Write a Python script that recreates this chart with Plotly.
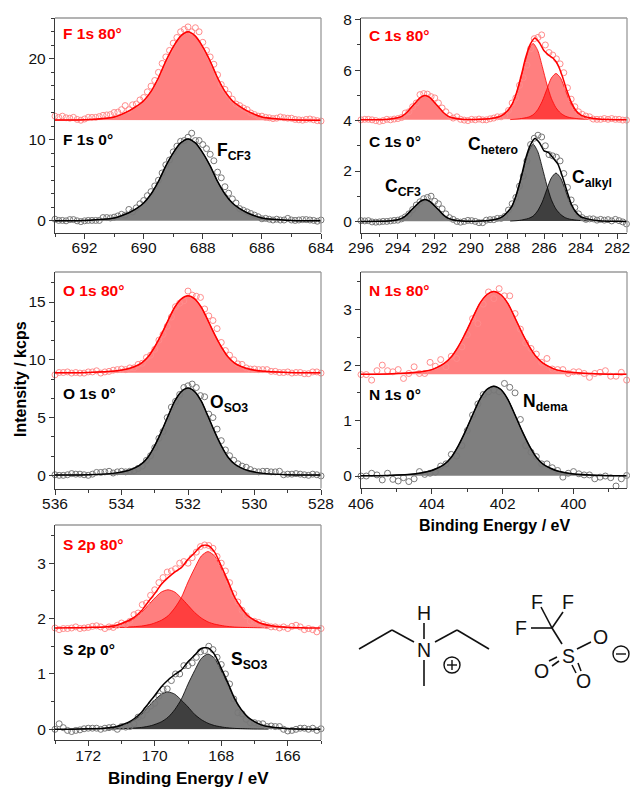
import plotly.graph_objects as go

W, H = 630, 787

# ---------- measured points (kcps) ----------
f80 = [12.9,12.75,12.9,12.7,12.65,12.75,12.5,12.4,12.55,12.75,
       12.75,12.75,12.85,13.0,13.05,13.1,13.35,13.4,13.7,14.2,
       13.7,14.3,14.4,14.9,15.2,15.9,16.6,17.3,18.3,19.4,
       20.2,21.0,21.9,22.6,23.3,23.6,23.9,23.3,23.8,23.3,
       22.0,21.0,20.2,19.3,18.0,16.8,16.2,15.6,15.0,14.4,
       14.2,13.9,13.7,13.3,13.1,12.9,12.9,12.75,12.7,12.6,
       12.65,12.8,12.7,12.65,12.65,12.5,12.45,12.4,12.5,12.55,
       12.45,12.35,12.3]
f0 = [.2,.05,.05,.0,.15,.15,.0,-.1,.0,.05,
      .05,.05,.05,.4,.4,.35,.45,.6,.8,.7,
      1.4,1.1,1.6,2.1,2.5,3.1,3.6,4.3,5.0,5.9,
      6.9,7.5,8.5,9.2,9.8,9.9,10.3,10.8,9.9,9.9,
      9.4,8.9,8.2,7.4,6.0,5.3,4.2,3.4,2.7,2.2,
      1.5,1.3,1.1,.9,.7,.5,.25,.3,.2,.1,
      .2,.1,.1,.3,.1,.05,.1,.15,.15,.1,
      .05,-.05,.1]
o80 = [8.7,8.9,8.9,8.95,8.85,8.9,8.85,8.85,8.95,8.95,
       9.05,8.85,8.95,9.0,9.1,9.15,9.2,9.15,9.3,9.3,
       9.6,9.7,10.2,10.4,10.9,11.7,12.2,12.9,13.7,14.6,
       14.9,15.1,15.95,15.6,15.5,15.4,14.4,13.8,13.4,12.7,
       11.5,10.8,10.4,10.0,9.65,9.6,9.3,9.2,9.2,9.15,
       9.15,9.15,9.0,9.0,8.9,8.9,8.95,8.85,8.9,8.9,
       8.8,8.8,8.95,8.95,8.85]
o0 = [.05,.0,.0,.05,.15,.1,.1,.05,.0,.1,
      .25,.25,.3,.35,.2,.3,.35,.3,.35,.4,
      .6,.8,1.3,1.7,2.4,3.2,3.8,5.0,5.9,6.4,
      7.0,7.6,7.75,7.9,7.6,6.9,6.8,5.3,5.0,4.0,
      3.0,2.2,1.7,1.3,1.0,.8,.7,.5,.35,.3,
      .35,.35,.3,.3,.35,.05,.1,.1,.15,.1,
      .05,.0,.1,.05,-.05]
n80 = [1.83,1.83,1.73,1.9,2.0,1.9,1.88,1.92,1.76,1.85,
       1.97,1.85,1.85,2.05,1.98,2.1,1.97,2.16,2.12,2.33,
       2.55,2.84,2.75,3.1,3.32,3.2,3.38,3.25,3.25,2.93,
       2.65,2.4,2.3,2.2,2.05,2.12,1.93,1.92,1.92,1.85,
       1.88,1.88,1.85,1.78,1.85,1.87,1.9,1.8,1.8,1.87,
       1.73]
n0 = [.0,.0,.05,.02,-.07,.05,-.06,-.09,-.03,-.1,
      -.05,.08,.03,.05,.07,.18,.22,.39,.36,.55,
      .82,1.1,1.3,1.47,1.52,1.55,1.52,1.67,1.6,1.5,
      1.02,.55,.43,.35,.22,.22,.15,.1,-.02,.05,
      .08,.04,.02,.02,-.05,-.02,.0,-.03,-.18,-.05,
      .01]
c80 = [4.03,4.05,4.05,4.03,4.0,3.97,4.0,4.05,4.03,4.06,
       4.08,4.12,4.3,4.35,4.55,4.7,5.03,5.07,5.05,4.95,
       4.9,4.7,4.5,4.35,4.2,4.1,4.15,4.05,4.02,4.0,
       4.05,4.03,4.06,4.03,4.03,4.07,4.1,4.15,4.15,4.2,
       4.4,4.7,4.9,5.4,5.7,6.2,6.85,7.25,7.3,7.4,
       7.0,6.7,6.6,6.45,6.25,5.9,5.3,4.85,4.55,4.35,
       4.25,4.18,4.15,4.06,4.05,4.05,4.08,4.05,4.08,4.05,
       4.05,4.02,4.02]
c0 = [.03,.02,.03,-.02,-.03,-.02,.0,.0,.02,.04,
      .05,.1,.18,.3,.47,.65,.78,.9,.95,1.0,
      .8,.7,.5,.3,.15,.08,.0,-.03,.0,.04,
      .03,.0,-.05,-.05,.05,.07,.07,.12,.12,.2,
      .45,.7,.95,1.4,1.8,2.4,3.05,3.3,3.42,3.35,
      3.0,2.65,2.6,2.55,2.4,1.9,1.35,.85,.55,.3,
      .15,.08,.1,.1,.05,.08,.05,.07,.02,.08,
      .03,-.02,-.1]
s80 = [1.83,1.8,1.82,1.82,1.83,1.85,1.82,1.83,1.84,1.86,
       1.87,1.85,1.82,1.85,1.84,1.88,1.92,1.9,1.95,2.07,
       2.1,2.25,2.28,2.42,2.52,2.65,2.74,2.84,2.86,2.9,
       3.0,3.03,3.0,3.1,3.2,3.3,3.33,3.32,3.27,3.12,
       3.0,2.86,2.65,2.45,2.3,2.15,2.05,1.95,1.95,1.93,
       1.9,1.87,1.85,1.85,1.83,1.85,1.82,1.86,1.88,1.85,
       1.8,1.82,1.8,1.76,1.82]
s0 = [.0,.1,.03,-.02,-.04,-.02,-.01,.01,.02,.02,
      .02,.0,.02,.03,.04,.0,.05,.04,.05,.1,
      .22,.25,.35,.42,.47,.6,.72,.73,.88,1.0,
      1.0,1.15,1.15,1.2,1.3,1.4,1.42,1.5,1.44,1.3,
      1.17,1.0,.82,.55,.3,.28,.18,.12,.12,.1,
      .1,.05,.06,.05,.05,.0,-.03,-.02,.0,.02,
      .02,.0,.02,-.02,.01]

# energy scan start, stop of the measured points (eV)
scan_f = (693, 684)
scan_o = (536, 528)
scan_n = (406, 398.5)
scan_c = (296, 281.5)
scan_s = (173, 165)

# ---------- fit envelopes ----------
fx_f = [693,692,691,690.5,690.25,690,689.75,689.5,689.25,689,688.75,688.5,688.25,688,687.75,687.5,687.25,687,686.75,686.5,686,685,684]
fit_f80 = [12.42,12.45,12.8,13.55,14.1,14.8,15.95,17.63,19.7,21.45,22.76,23.3,22.76,21.45,19.7,17.63,15.95,14.8,14.1,13.55,12.8,12.45,12.4]
fit_f0 = [0,.05,.35,1.0,1.5,2.2,3.3,4.85,6.77,8.38,9.6,10.1,9.6,8.38,6.77,4.85,3.3,2.2,1.5,1.0,.35,.05,0]

fx_o = [536,535,534.2,533.8,533.6,533.4,533.2,533,532.8,532.6,532.4,532.2,532,531.8,531.6,531.4,531.2,531,530.8,530.6,530.4,530.2,529.8,529,528]
fit_o80 = [8.87,8.9,9.02,9.22,9.42,9.72,10.26,11.13,12.2,13.41,14.55,15.28,15.55,15.28,14.55,13.41,12.2,11.13,10.26,9.72,9.42,9.22,9.02,8.9,8.87]
fit_o0 = [.02,.05,.19,.42,.64,.98,1.59,2.57,3.78,5.13,6.42,7.25,7.55,7.25,6.42,5.13,3.78,2.57,1.59,.98,.64,.42,.19,.05,.02]

fx_n = [406,405.25,404.45,404.05,403.85,403.65,403.45,403.25,403.05,402.85,402.65,402.45,402.25,402.05,401.85,401.65,401.45,401.25,401.05,400.85,400.65,400.45,400.05,399.25,398.49]
fit_n80 = [1.835,1.84,1.87,1.91,1.96,2.03,2.15,2.34,2.58,2.85,3.11,3.27,3.33,3.27,3.11,2.85,2.58,2.34,2.15,2.03,1.96,1.91,1.87,1.84,1.835]
fit_n0 = [.005,.01,.04,.09,.14,.21,.34,.55,.81,1.10,1.38,1.56,1.62,1.56,1.38,1.10,.81,.55,.34,.21,.14,.09,.04,.01,.005]

fx_c = [296,295,294.5,294,293.75,293.5,293.25,293,292.75,292.5,292.25,292,291.75,291.5,291.25,291,290.5,290,289.5,289,288.75,288.5,288.25,288,287.75,287.5,287.25,287,286.75,286.5,286.25,286,285.75,285.5,285.25,285,284.75,284.5,284.25,284,283.5,283,282,281.47]
fit_c80 = [4.03,4.035,4.05,4.11,4.18,4.32,4.53,4.73,4.92,5.0,4.92,4.73,4.53,4.32,4.18,4.11,4.05,4.04,4.05,4.07,4.1,4.14,4.23,4.39,4.64,5.12,5.78,6.51,7.03,7.28,7.09,6.77,6.6,6.47,6.22,5.75,5.18,4.7,4.39,4.23,4.11,4.06,4.035,4.03]
fit_c0 = [0,.004,.02,.07,.13,.26,.45,.63,.8,.87,.8,.63,.45,.26,.13,.07,.02,.01,.02,.04,.07,.11,.2,.37,.61,1.1,1.76,2.51,3.03,3.29,3.12,2.8,2.73,2.51,2.28,1.78,1.2,.67,.36,.19,.08,.03,.005,0]

fx_s = [173,172.5,172,171.5,171.2,171,170.8,170.6,170.4,170.2,170,169.8,169.6,169.4,169.2,169,168.8,168.6,168.4,168.2,168,167.8,167.6,167.4,167.2,167,166.8,166.5,166,165.5,165]
fit_s80 = [1.83,1.833,1.84,1.85,1.87,1.91,1.96,2.03,2.14,2.3,2.45,2.62,2.74,2.84,2.92,3.07,3.19,3.31,3.32,3.2,2.95,2.68,2.39,2.2,2.05,1.97,1.91,1.87,1.84,1.832,1.83]
fit_s0 = [0,.003,.008,.02,.04,.078,.125,.2,.305,.46,.61,.77,.89,.99,1.07,1.22,1.34,1.46,1.47,1.35,1.1,.84,.56,.36,.22,.14,.08,.04,.012,.003,0]

# ---------- fitted components ----------
cx_cf3 = [295,294.5,294,293.75,293.5,293.25,293,292.75,292.5,292.25,292,291.75,291.5,291.25,291,290.5,290]
cf3_80 = [4.035,4.05,4.11,4.18,4.32,4.53,4.73,4.92,5.0,4.92,4.73,4.53,4.32,4.18,4.11,4.05,4.035]
cf3_0 = [.004,.02,.07,.13,.26,.45,.63,.8,.87,.8,.63,.45,.26,.13,.07,.02,.004]
cx_het = [289.6,289.1,288.6,288.35,288.1,287.85,287.6,287.35,287.1,286.85,286.6,286.35,286.1,285.85,285.6,285.35,285.1,284.85,284.6,284.1,283.6]
het_80 = [4.05,4.07,4.12,4.18,4.3,4.51,4.88,5.45,6.15,6.79,7.06,6.79,6.15,5.45,4.88,4.51,4.3,4.18,4.12,4.07,4.05]
het_0 = [.015,.04,.09,.15,.28,.49,.86,1.44,2.14,2.78,3.06,2.78,2.14,1.44,.86,.49,.28,.15,.09,.04,.015]
cx_alk = [287.85,287.35,286.85,286.6,286.35,286.1,285.85,285.6,285.35,285.1,284.85,284.6,284.35,284.1,283.85,283.35,282.85]
alk_80 = [4.04,4.07,4.14,4.23,4.43,4.77,5.24,5.69,5.87,5.69,5.24,4.77,4.43,4.23,4.14,4.07,4.04]
alk_0 = [.013,.04,.12,.21,.42,.77,1.27,1.73,1.92,1.73,1.27,.77,.42,.21,.12,.04,.013]
sx_a = [172.6,172.1,171.6,171.3,171,170.8,170.6,170.4,170.2,170,169.8,169.6,169.4,169.2,169,168.8,168.6,168.4,168.2,167.9,167.6,167.1,166.6]
sa_80 = [1.832,1.837,1.847,1.865,1.9,1.94,2.01,2.11,2.24,2.37,2.48,2.52,2.48,2.37,2.24,2.11,2.01,1.94,1.9,1.865,1.847,1.837,1.832]
sa_0 = [.002,.007,.017,.034,.068,.11,.175,.27,.405,.527,.635,.675,.635,.527,.405,.27,.175,.11,.068,.034,.017,.007,.002]
sx_b = [171.4,170.9,170.4,170.1,169.8,169.6,169.4,169.2,169,168.8,168.6,168.4,168.2,168,167.8,167.6,167.4,167.2,167,166.7,166.4,165.9,165.4]
sb_80 = [1.834,1.844,1.865,1.9,1.97,2.05,2.19,2.38,2.66,2.91,3.13,3.21,3.13,2.91,2.66,2.38,2.19,2.05,1.97,1.9,1.865,1.844,1.834]
sb_0 = [.004,.014,.034,.068,.136,.218,.354,.544,.816,1.06,1.28,1.36,1.28,1.06,.816,.544,.354,.218,.136,.068,.034,.014,.004]

# ---------- panels: pixel box, axis ranges, ticks ----------
panels = [
    dict(box=(55,321,18,232.5), xr=(693,684), yr=(-1.44,25.0), xt=[692,690,688,686,684], yt=[0,10,20], ym=10/6, scan=scan_f,
         y80=f80, y0=f0, fx=fx_f, fit80=fit_f80, fit0=fit_f0,
         comp=[(fx_f,fit_f80,fit_f0)]),
    dict(box=(361,627,18,232.5), xr=(296,281.47), yr=(-0.44,8.07), xt=[296,294,292,290,288,286,284,282], yt=[0,2,4,6,8], ym=1, scan=scan_c,
         y80=c80, y0=c0, fx=fx_c, fit80=fit_c80, fit0=fit_c0,
         comp=[(cx_cf3,cf3_80,cf3_0),(cx_het,het_80,het_0),(cx_alk,alk_80,alk_0)]),
    dict(box=(55,321,272,488.5), xr=(536,528), yr=(-1.14,17.6), xt=[536,534,532,530,528], yt=[0,5,10,15], ym=5/3, scan=scan_o,
         y80=o80, y0=o0, fx=fx_o, fit80=fit_o80, fit0=fit_o0,
         comp=[(fx_o,fit_o80,fit_o0)]),
    dict(box=(361,627,272,488), xr=(406,398.49), yr=(-0.216,3.68), xt=[406,404,402,400], yt=[0,1,2,3], ym=0.5, scan=scan_n,
         y80=n80, y0=n0, fx=fx_n, fit80=fit_n80, fit0=fit_n0,
         comp=[(fx_n,fit_n80,fit_n0)]),
    dict(box=(55,321,525,740), xr=(173,165), yr=(-0.193,3.69), xt=[172,170,168,166], yt=[0,1,2,3], ym=0.5, scan=scan_s,
         y80=s80, y0=s0, fx=fx_s, fit80=fit_s80, fit0=fit_s0,
         comp=[(sx_a,sa_80,sa_0),(sx_b,sb_80,sb_0)]),
]

# text labels: text, left px, centre y px, colour, font size
RED, BLACK = "#ff0000", "#000000"
labels = [
    ("F 1s 80°",61,34,RED,15.5),("F 1s 0°",61,139,BLACK,15.5),("F<sub>CF3</sub>",215,151,BLACK,17.5),
    ("C 1s 80°",367,35,RED,15.5),("C 1s 0°",367,142,BLACK,15.5),("C<sub>hetero</sub>",466,145,BLACK,17.5),
    ("C<sub>CF3</sub>",383,188,BLACK,17.5),("C<sub>alkyl</sub>",570,178,BLACK,17.5),
    ("O 1s 80°",61,290,RED,15.5),("O 1s 0°",61,393,BLACK,15.5),("O<sub>SO3</sub>",208,403,BLACK,17.5),
    ("N 1s 80°",367,290,RED,15.5),("N 1s 0°",367,395,BLACK,15.5),("N<sub>dema</sub>",521,402,BLACK,17.5),
    ("S 2p 80°",61,544,RED,15.5),("S 2p 0°",61,649,BLACK,15.5),("S<sub>SO3</sub>",229,660,BLACK,17.5),
]
titles = [("Intensity / kcps",20,379,-90,16),("Binding Energy / eV",494,525,0,16),("Binding Energy / eV",188,778,0,17)]

# molecule drawing, in pixels of the page
bonds = [
    (359,649,392,630),(392,630,414,642),(435,642,457,630),(457,630,489,649),
    (424,623,424,639),(424,660,424,686),
    (541,607,552,628),(563,612,552,628),(531,628,552,628),(552,628,562,644),
    (577,649,591,642),(557,657,549,661),(559,661,552,666),(572,665,576,673),(578,663,581,671),
]
atoms = [("H",424,613),("N",424,650),("F",537,602),("F",568,602),("F",521,628),("S",568,656),("O",600,637),("O",541,671),("O",583,681)]
charge_plus = (452,665)
charge_minus = (621,654)

LINE_C = "#3a3a3a"
FRAME_C = "#9a9a9a"
TICK_SIZE = 15.5

fig = go.Figure()
annotations, shapes = [], []
layout = {}


def px_x(v):
    return v / W


def px_y(v):
    return 1 - v / H


for i, p in enumerate(panels, start=1):
    xa, ya = f"x{i}", f"y{i}"
    L, R, T, B = p["box"]
    layout[f"xaxis{i}"] = dict(
        domain=[px_x(L), px_x(R)], range=list(p["xr"]), anchor=ya, tickmode="array", tickvals=p["xt"],
        ticks="outside", ticklen=5, tickwidth=1.2, tickcolor=LINE_C, showline=True, linecolor=LINE_C, linewidth=1.3,
        showgrid=False, zeroline=False, tickfont=dict(size=TICK_SIZE, color="#111"), automargin=False,
        ticklabeloverflow="allow", ticklabelstandoff=-4,
        minor=dict(ticks="outside", ticklen=3, tickwidth=1, tickcolor=LINE_C, dtick=1, showgrid=False, tick0=p["xt"][0]),
    )
    layout[f"yaxis{i}"] = dict(
        domain=[px_y(B), px_y(T)], range=list(p["yr"]), anchor=xa, tickmode="array", tickvals=p["yt"],
        ticks="outside", ticklen=5, tickwidth=1.2, tickcolor=LINE_C, showline=True, linecolor=LINE_C, linewidth=1.3,
        showgrid=False, zeroline=False, tickfont=dict(size=TICK_SIZE, color="#111"), automargin=False,
        minor=dict(ticks="outside", ticklen=3, tickwidth=1, tickcolor=LINE_C, dtick=p["ym"], tick0=0, showgrid=False),
    )
    # grey top and right frame
    shapes.append(dict(type="line", xref="paper", yref="paper", x0=px_x(L), x1=px_x(R), y0=px_y(T), y1=px_y(T), line=dict(color=FRAME_C, width=1.3)))
    shapes.append(dict(type="line", xref="paper", yref="paper", x0=px_x(R), x1=px_x(R), y0=px_y(T), y1=px_y(B), line=dict(color=FRAME_C, width=1.3)))

    for key, col, fill, mk, fit, ycomp in (
        ("y80", "#ff0000", "rgba(255,0,0,0.5)", "rgb(255,140,140)", p["fit80"], 1),
        ("y0", "#000000", "rgba(0,0,0,0.5)", "rgb(120,120,120)", p["fit0"], 2),
    ):
        for comp in p["comp"]:
            fig.add_trace(go.Scatter(x=comp[0], y=comp[ycomp], xaxis=xa, yaxis=ya, mode="lines", fill="toself",
                                     fillcolor=fill, line=dict(color=col, width=0.8, shape="spline", smoothing=0.7),
                                     hoverinfo="skip", showlegend=False))
        ys = p[key]
        x0_, x1_ = p["scan"]
        step = (x1_ - x0_) / (len(ys) - 1)
        fig.add_trace(go.Scatter(x=[x0_ + k * step for k in range(len(ys))], y=ys, xaxis=xa, yaxis=ya, mode="markers",
                                 cliponaxis=False,
                                 marker=dict(symbol="circle-open", size=6, color=mk, line=dict(width=1, color=mk)),
                                 hoverinfo="skip", showlegend=False))
        fig.add_trace(go.Scatter(x=p["fx"], y=fit, xaxis=xa, yaxis=ya, mode="lines",
                                 line=dict(color=col, width=1.5, shape="spline", smoothing=0.7),
                                 hoverinfo="skip", showlegend=False))

for text, x, y, col, size in labels:
    annotations.append(dict(text=f"<b>{text}</b>", xref="paper", yref="paper", x=px_x(x), y=px_y(y), xanchor="left", yanchor="middle",
                            showarrow=False, font=dict(size=size, color=col)))
for text, x, y, ang, size in titles:
    annotations.append(dict(text=f"<b>{text}</b>", xref="paper", yref="paper", x=px_x(x), y=px_y(y), xanchor="center", yanchor="middle",
                            showarrow=False, textangle=ang, font=dict(size=size, color="#000")))
for text, x, y in atoms:
    annotations.append(dict(text=text, xref="paper", yref="paper", x=px_x(x), y=px_y(y), xanchor="center", yanchor="middle",
                            showarrow=False, font=dict(size=19.5, color="#111")))
for x0, y0, x1, y1 in bonds:
    shapes.append(dict(type="line", xref="paper", yref="paper", x0=px_x(x0), y0=px_y(y0), x1=px_x(x1), y1=px_y(y1), line=dict(color="#111", width=1.6)))
for (cx, cy), plus in ((charge_plus, True), (charge_minus, False)):
    shapes.append(dict(type="circle", xref="paper", yref="paper", x0=px_x(cx - 8), x1=px_x(cx + 8), y0=px_y(cy + 8), y1=px_y(cy - 8), line=dict(color="#111", width=1.4)))
    shapes.append(dict(type="line", xref="paper", yref="paper", x0=px_x(cx - 5), x1=px_x(cx + 5), y0=px_y(cy), y1=px_y(cy), line=dict(color="#111", width=1.4)))
    if plus:
        shapes.append(dict(type="line", xref="paper", yref="paper", x0=px_x(cx), x1=px_x(cx), y0=px_y(cy - 5), y1=px_y(cy + 5), line=dict(color="#111", width=1.4)))

fig.update_layout(
    width=W, height=H, margin=dict(l=0, r=0, t=0, b=0), autosize=False, showlegend=False,
    paper_bgcolor="white", plot_bgcolor="white", font=dict(family="Liberation Sans, Arial, sans-serif", color="#111"),
    annotations=annotations, shapes=shapes, **layout,
)
fig.write_html("out.html", config=dict(displayModeBar=False), post_script="document.body.style.margin='0';")
